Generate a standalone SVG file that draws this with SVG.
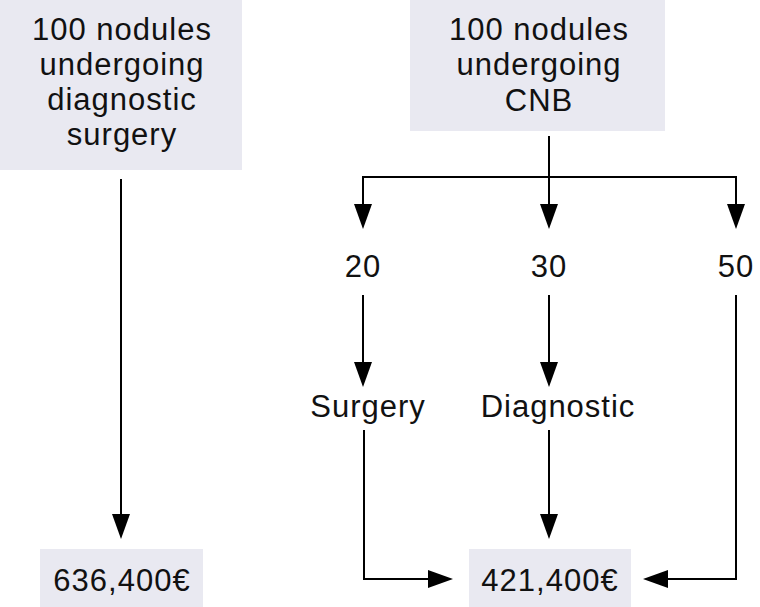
<svg xmlns="http://www.w3.org/2000/svg" width="760" height="607" viewBox="0 0 760 607">
<style>
.box{fill:#e9e9f1}
.t{font-family:"Liberation Sans",Arial,Helvetica,sans-serif;font-size:31px;letter-spacing:1px;fill:#111;text-anchor:middle}
.c{fill:none;stroke:#000;stroke-width:2}
.h{fill:#000}
</style>
<rect width="760" height="607" fill="#fff"/>
<g id="n-left-top">
<rect class="box" x="0" y="0" width="242" height="170"/>
<text class="t" x="122" y="40">100 nodules</text>
<text class="t" x="122" y="75">undergoing</text>
<text class="t" x="122" y="110">diagnostic</text>
<text class="t" x="122" y="145">surgery</text>
</g>
<g id="n-right-top">
<rect class="box" x="410" y="0" width="255" height="131"/>
<text class="t" x="539" y="40">100 nodules</text>
<text class="t" x="539" y="75">undergoing</text>
<text class="t" x="539" y="111">CNB</text>
</g>
<g id="n-20"><text class="t" x="363" y="277">20</text></g>
<g id="n-30"><text class="t" x="549" y="277">30</text></g>
<g id="n-50"><text class="t" x="736" y="277">50</text></g>
<g id="n-surgery"><text class="t" x="368" y="417">Surgery</text></g>
<g id="n-diagnostic"><text class="t" x="558" y="417">Diagnostic</text></g>
<g id="n-left-cost">
<rect class="box" x="40" y="549" width="163" height="58"/>
<text class="t" x="122" y="591">636,400€</text>
</g>
<g id="n-right-cost">
<rect class="box" x="469" y="549" width="162" height="58"/>
<text class="t" x="550" y="591">421,400€</text>
</g>
<g id="connectors">
<path class="c" d="M121 179V516"/>
<path class="h" d="M112 514H130L121 539Z"/>
<path class="c" d="M549 136V206"/>
<path class="c" d="M363 206V177H736V206"/>
<path class="h" d="M354 204H372L363 229Z"/>
<path class="h" d="M540 204H558L549 229Z"/>
<path class="h" d="M727 204H745L736 229Z"/>
<path class="c" d="M363 295V364"/>
<path class="h" d="M354 362H372L363 387Z"/>
<path class="c" d="M549 295V364"/>
<path class="h" d="M540 362H558L549 387Z"/>
<path class="c" d="M549 430V516"/>
<path class="h" d="M540 514H558L549 539Z"/>
<path class="c" d="M364 430V579H430"/>
<path class="h" d="M428 570V588L453 579Z"/>
<path class="c" d="M736 295V579H666"/>
<path class="h" d="M668 570V588L643 579Z"/>
</g>
</svg>
